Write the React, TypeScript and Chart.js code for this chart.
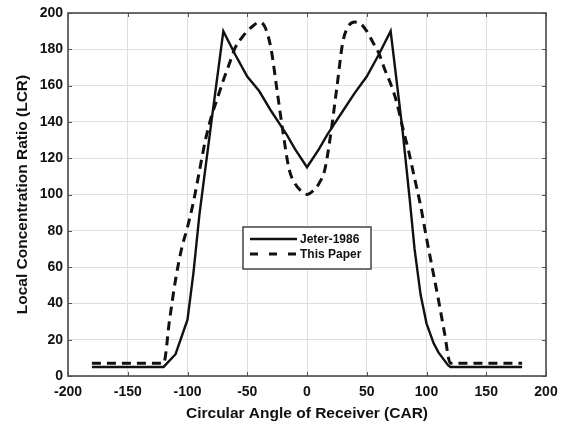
import React, { useEffect, useRef } from "react";
import { Chart, registerables } from "chart.js";

Chart.register(...registerables);

const seriesLabels = ["Jeter-1986", "This Paper"];
const xTitle = "Circular Angle of Receiver (CAR)";
const yTitle = "Local Concentration Ratio (LCR)";

const xTicks = [-200, -150, -100, -50, 0, 50, 100, 150, 200];
const yTicks = [0, 20, 40, 60, 80, 100, 120, 140, 160, 180, 200];

const jeterX = [-180, -120, -110, -100, -95, -90, -80, -70, -60, -50, -40, -30, -20, -17, -10, 0, 10, 17, 20, 30, 40, 50, 60, 70, 80, 86, 90, 95, 100, 106, 110, 118, 120, 180];
const jeterY = [5, 5, 12, 31, 57, 89, 140, 190, 177, 165, 157, 146, 136, 133, 125, 115, 125, 133, 136, 146, 156, 165, 177, 190, 135, 97, 70, 45, 29, 18, 13, 6, 5, 5];

const paperX = [-180, -120, -115, -110, -105, -100, -95, -90, -85, -80, -75, -70, -65, -60, -55, -50, -45, -40, -35, -30, -25, -20, -15, -10, -5, 0, 5, 10, 15, 20, 25, 30, 35, 40, 45, 50, 55, 60, 65, 70, 75, 80, 85, 90, 95, 100, 105, 110, 115, 120, 180];
const paperY = [7, 7, 31, 53, 70, 82, 96, 113, 130, 143, 153, 163, 172, 181, 186, 190, 193, 195, 192, 180, 157, 134, 114, 106, 102, 100, 102, 106, 114, 134, 159, 184, 193, 195, 194, 190, 184, 178, 169, 161, 151, 137, 124, 109, 94, 76, 59, 42, 24, 7, 7];

const FONT = "'Liberation Sans', Arial, sans-serif";

const framePlugin = {
  id: "matlabFrame",
  afterDatasetsDraw(chart: any) {
    const { ctx, chartArea: a, scales } = chart;
    ctx.save();
    ctx.strokeStyle = "#555";
    ctx.lineWidth = 1;
    const tl = 4;
    xTicks.forEach((v) => {
      const px = Math.round(scales.x.getPixelForValue(v)) + 0.5;
      ctx.beginPath();
      ctx.moveTo(px, a.bottom);
      ctx.lineTo(px, a.bottom - tl);
      ctx.moveTo(px, a.top);
      ctx.lineTo(px, a.top + tl);
      ctx.stroke();
    });
    yTicks.forEach((v) => {
      const py = Math.round(scales.y.getPixelForValue(v)) + 0.5;
      ctx.beginPath();
      ctx.moveTo(a.left, py);
      ctx.lineTo(a.left + tl, py);
      ctx.moveTo(a.right, py);
      ctx.lineTo(a.right - tl, py);
      ctx.stroke();
    });
    ctx.strokeStyle = "#4a4a4a";
    ctx.lineWidth = 1.6;
    ctx.strokeRect(a.left, a.top, a.right - a.left, a.bottom - a.top);

    // legend box inside the axes
    const lx = a.left + 175;
    const ly = a.top + 214;
    const lw = 128;
    const lh = 42;
    ctx.fillStyle = "#ffffff";
    ctx.fillRect(lx, ly, lw, lh);
    ctx.strokeStyle = "#444";
    ctx.lineWidth = 1.5;
    ctx.strokeRect(lx, ly, lw, lh);
    const rows = [ly + 12, ly + 27];
    chart.data.datasets.forEach((ds: any, i: number) => {
      const y = rows[i];
      ctx.beginPath();
      ctx.strokeStyle = ds.borderColor;
      ctx.lineWidth = ds.borderWidth;
      ctx.setLineDash(ds.borderDash ? [8, 11] : []);
      ctx.moveTo(lx + 7, y);
      ctx.lineTo(lx + 54, y);
      ctx.stroke();
      ctx.setLineDash([]);
      ctx.fillStyle = "#111";
      ctx.font = `bold 12px ${FONT}`;
      ctx.textAlign = "left";
      ctx.textBaseline = "middle";
      ctx.fillText(ds.label, lx + 57, y + 1);
    });
    ctx.restore();
  },
};

export default function App() {
  const canvasRef = useRef<HTMLCanvasElement | null>(null);

  useEffect(() => {
    document.body.style.margin = "0";
    const canvas = canvasRef.current;
    if (!canvas) return;
    const chart = new Chart(canvas, {
      type: "scatter",
      data: {
        datasets: [
          {
            label: seriesLabels[0],
            data: jeterX.map((x, i) => ({ x, y: jeterY[i] })),
            showLine: true,
            borderColor: "#111111",
            borderWidth: 2.4,
            pointRadius: 0,
            fill: false,
            tension: 0,
          },
          {
            label: seriesLabels[1],
            data: paperX.map((x, i) => ({ x, y: paperY[i] })),
            showLine: true,
            borderColor: "#111111",
            borderWidth: 3,
            borderDash: [9, 6],
            pointRadius: 0,
            fill: false,
            cubicInterpolationMode: "monotone",
          },
        ],
      },
      options: {
        responsive: false,
        animation: false,
        layout: { padding: { left: 0, right: 15, top: 13, bottom: 0 } },
        plugins: {
          legend: { display: false },
          tooltip: { enabled: false },
        },
        scales: {
          x: {
            type: "linear",
            min: -200,
            max: 200,
            afterBuildTicks: (s: any) => {
              s.ticks = xTicks.map((v) => ({ value: v }));
            },
            afterFit: (s: any) => {
              s.height = 48;
              s.paddingLeft = 0;
              s.paddingRight = 0;
            },
            grid: { color: "#dedede", lineWidth: 1, drawTicks: false },
            border: { display: false },
            ticks: {
              padding: 8,
              color: "#111",
              font: { family: FONT, size: 14, weight: "bold" },
              maxRotation: 0,
            },
            title: {
              display: true,
              text: xTitle,
              color: "#111",
              font: { family: FONT, size: 15.5, weight: "bold" },
              padding: { top: 0, bottom: 1 },
            },
          },
          y: {
            type: "linear",
            min: 0,
            max: 200,
            afterBuildTicks: (s: any) => {
              s.ticks = yTicks.map((v) => ({ value: v }));
            },
            afterFit: (s: any) => {
              s.width = 68;
              s.paddingTop = 0;
              s.paddingBottom = 0;
            },
            grid: { color: "#dedede", lineWidth: 1, drawTicks: false },
            border: { display: false },
            ticks: {
              padding: 5,
              color: "#111",
              font: { family: FONT, size: 14, weight: "bold" },
            },
            title: {
              display: true,
              text: yTitle,
              color: "#111",
              font: { family: FONT, size: 15.5, weight: "bold" },
              padding: { top: 13, bottom: 0 },
            },
          },
        },
      },
      plugins: [framePlugin],
    } as any);
    return () => chart.destroy();
  }, []);

  return (
    <div style={{ width: 561, height: 424, background: "#fff" }}>
      <canvas ref={canvasRef} width={561} height={424} style={{ display: "block" }} />
    </div>
  );
}
